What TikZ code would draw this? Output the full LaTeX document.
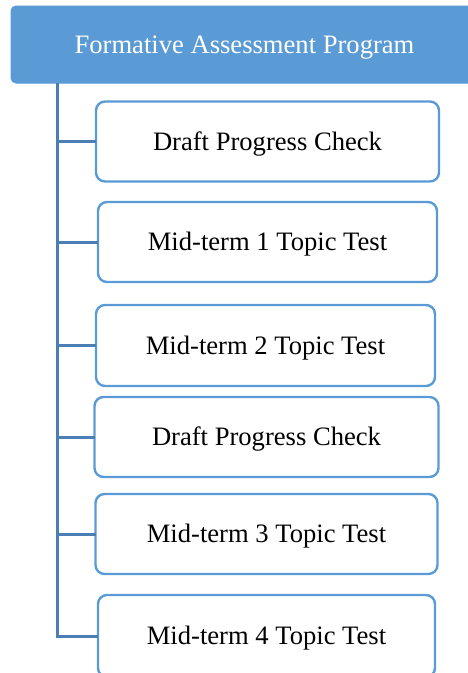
\documentclass[tikz,border=0pt]{standalone}
\usepackage{fontspec}
\setmainfont{Liberation Serif}
\definecolor{boxblue}{HTML}{5B9BD5}
\definecolor{linkblue}{HTML}{4A7EB5}
\tikzset{
  x=1pt, y=1pt,
  labeltext/.style={font=\fontsize{26.6}{30}\selectfont, text height=17.6pt, text depth=0pt},
  headbox/.style={labeltext, draw=boxblue, fill=boxblue, line width=1pt, rounded corners=5pt,
    text=white, inner sep=0pt, outer sep=0pt},
  itembox/.style={labeltext, draw=boxblue, fill=white, line width=2.4pt, rounded corners=9pt,
    inner sep=0pt, outer sep=0pt},
  link/.style={draw=linkblue, line width=3pt},
}
\begin{document}
\begin{tikzpicture}
  \useasboundingbox (0,0) rectangle (468,-673);
  \clip (0,0) rectangle (468,-673);
  % heading bar
  \node[headbox, minimum width=467, minimum height=77] (head) at (244.5,-44.5)
    {Formative Assessment Program};
  % assessment items
  \node[itembox, minimum width=343, minimum height=80] (b1) at (267.5,-141.5) {Draft Progress Check};
  \node[itembox, minimum width=339, minimum height=80] (b2) at (267.5,-242) {Mid-term 1 Topic Test};
  \node[itembox, minimum width=339, minimum height=81] (b3) at (265.5,-345.5) {Mid-term 2 Topic Test};
  \node[itembox, minimum width=344, minimum height=80] (b4) at (266.5,-437) {Draft Progress Check};
  \node[itembox, minimum width=342, minimum height=80] (b5) at (266.5,-534) {Mid-term 3 Topic Test};
  \node[itembox, minimum width=337, minimum height=82] (b6) at (266.5,-636) {Mid-term 4 Topic Test};
  % spine and branches
  \coordinate (spine) at (57,-83);
  \draw[link] (spine) |- (b6.west);
  \foreach \b in {b1,b2,b3,b4,b5}
    \draw[link] (\b.west -| spine) -- (\b.west);
\end{tikzpicture}
\end{document}
